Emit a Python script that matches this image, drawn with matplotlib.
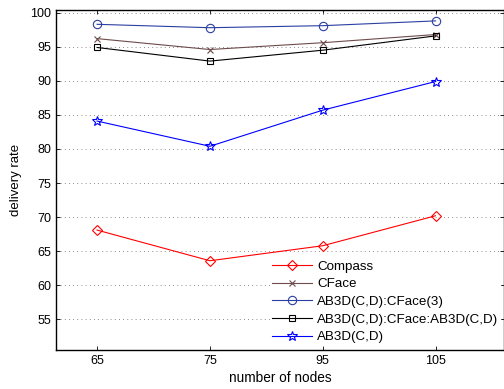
import matplotlib
matplotlib.use('Agg')
import matplotlib.pyplot as plt

plt.rcParams['font.family'] = ['Liberation Sans', 'DejaVu Sans']
plt.rcParams['font.size'] = 9

nodes = ['65', '75', '95', '105']
compass = [68.1, 63.6, 65.8, 70.2]
cface = [96.2, 94.6, 95.6, 96.8]
ab3d_cface3 = [98.3, 97.8, 98.1, 98.8]
ab3d_cface_ab3d = [94.9, 92.9, 94.5, 96.6]
ab3d = [84.1, 80.4, 85.7, 89.9]

W, H = 504, 389
fig = plt.figure(figsize=(W / 100, H / 100), dpi=100)
# right spine sits at the image edge, like the cropped original
ax = fig.add_axes([56 / W, (H - 350) / H, (504 - 56) / W, (350 - 10) / H])

pos = [1, 2, 3, 4]
ax.plot(pos, compass, color='red', marker='D', mfc='none', ms=5, mew=0.8, lw=0.8, label='Compass')
ax.plot(pos, cface, color='#6e4b4b', marker='x', ms=4.5, mew=0.8, lw=0.8, label='CFace')
ax.plot(pos, ab3d_cface3, color='#2b3fa0', marker='o', mfc='none', ms=6, mew=0.8, lw=0.8,
        label='AB3D(C,D):CFace(3)')
ax.plot(pos, ab3d_cface_ab3d, color='black', marker='s', mfc='none', ms=5, mew=0.8, lw=0.8,
        label='AB3D(C,D):CFace:AB3D(C,D)')
ax.plot(pos, ab3d, color='blue', marker='*', mfc='none', ms=7, mew=0.8, lw=0.8, label='AB3D(C,D)')

ax.set_xlim(0.636, 4.607)
ax.set_ylim(50.5, 100.4)
ax.set_xticks(pos)
ax.set_xticklabels(nodes)
ax.set_yticks(range(55, 101, 5))
ax.tick_params(direction='in', top=True, right=True, length=3, width=0.6)
ax.yaxis.grid(True, linestyle=(0, (1, 4)), color='#666666', linewidth=0.6)
for s in ax.spines.values():
    s.set_linewidth(1.0)

ax.set_xlabel('number of nodes', fontsize=9.8, labelpad=3)
ax.set_ylabel('delivery rate', fontsize=9.5, labelpad=6)

leg = ax.legend(loc='upper left', bbox_to_anchor=(271 / W, 1 - 259 / H),
                bbox_transform=fig.transFigure, frameon=True, fancybox=False,
                edgecolor='white', facecolor='white', framealpha=1, fontsize=9.6,
                borderpad=0.1, handlelength=3.0, handletextpad=0.35,
                labelspacing=0.4, borderaxespad=0)

fig.savefig('out.png', dpi=100)
